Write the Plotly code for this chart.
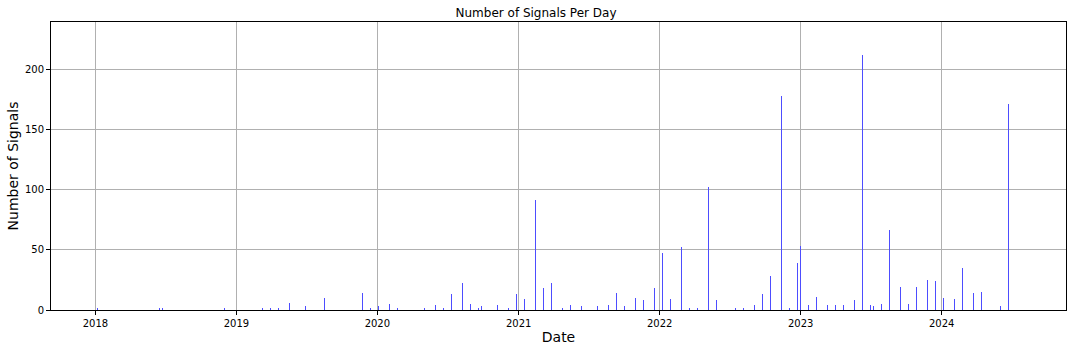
import plotly.graph_objects as go

dates = [
    "2018-01-06", "2018-06-16", "2018-06-23", "2018-12-01",
    "2019-03-10", "2019-03-30", "2019-04-20", "2019-05-18", "2019-06-29",
    "2019-08-17", "2019-11-23", "2019-12-14",
    "2020-01-03", "2020-02-01", "2020-02-22", "2020-05-02", "2020-05-30",
    "2020-06-20", "2020-07-11", "2020-08-08", "2020-08-29", "2020-09-18",
    "2020-09-26", "2020-11-07", "2020-12-05", "2020-12-26",
    "2021-01-15", "2021-02-13", "2021-03-06", "2021-03-26", "2021-04-24",
    "2021-05-15", "2021-06-12", "2021-07-23", "2021-08-21", "2021-09-11",
    "2021-10-01", "2021-10-30", "2021-11-19", "2021-12-18",
    "2022-01-08", "2022-01-28", "2022-02-26", "2022-03-19", "2022-04-08",
    "2022-05-07", "2022-05-28", "2022-07-16", "2022-08-05", "2022-09-03",
    "2022-09-24", "2022-10-14", "2022-11-12", "2022-12-02", "2022-12-23",
    "2023-01-01", "2023-01-21", "2023-02-10", "2023-03-11", "2023-04-01",
    "2023-04-21", "2023-05-20", "2023-06-09", "2023-06-30", "2023-07-08",
    "2023-07-29", "2023-08-18", "2023-09-16", "2023-10-07", "2023-10-27",
    "2023-11-25", "2023-12-15",
    "2024-01-05", "2024-02-03", "2024-02-23", "2024-03-23", "2024-04-13",
    "2024-06-01", "2024-06-21",
]
signals = [
    1, 2, 2, 1,
    1, 1, 1, 6, 3,
    10, 14, 1,
    3, 5, 1, 1, 4,
    1, 13, 22, 5, 1,
    3, 4, 1, 13,
    9, 91, 18, 22, 1,
    4, 3, 3, 4, 14,
    3, 10, 8, 18,
    47, 9, 52, 1, 1,
    102, 8, 1, 1, 4,
    13, 28, 178, 1, 39,
    53, 4, 11, 4, 4,
    4, 8, 212, 4, 3,
    5, 66, 19, 5, 19,
    25, 24,
    10, 9, 35, 14, 15,
    3, 171,
]

year_ticks = ["2018-01-01", "2019-01-01", "2020-01-01", "2021-01-01",
              "2022-01-01", "2023-01-01", "2024-01-01"]
year_labels = ["2018", "2019", "2020", "2021", "2022", "2023", "2024"]
y_ticks = [0, 50, 100, 150, 200]

DAY_MS = 86400000

fig = go.Figure()
fig.add_trace(go.Bar(
    x=dates,
    y=signals,
    width=[0.2 * DAY_MS] * len(dates),
    marker=dict(color="#4d4dff", line=dict(width=0)),
))

font_family = "DejaVu Sans, sans-serif"
fig.update_layout(
    width=1072,
    height=352,
    margin=dict(l=51, r=6, t=22, b=42),
    paper_bgcolor="white",
    plot_bgcolor="white",
    showlegend=False,
    font=dict(family=font_family, size=10, color="black"),
    title=dict(text="Number of Signals Per Day", x=0.5, xanchor="center",
               y=1 - 13 / 352, yanchor="middle",
               font=dict(size=12, family=font_family, color="black")),
    bargap=0,
)
fig.update_xaxes(
    type="date",
    range=["2017-09-08", "2024-11-18"],
    tickvals=year_ticks,
    ticktext=year_labels,
    showgrid=True, gridcolor="#b0b0b0", gridwidth=1,
    showline=True, linecolor="black", linewidth=1, mirror=True,
    ticks="outside", ticklen=4, tickcolor="black",
    tickfont=dict(size=10),
    title=dict(text="Date", font=dict(size=14), standoff=4),
    zeroline=False,
)
fig.update_yaxes(
    range=[0, 239],
    tickvals=y_ticks,
    showgrid=True, gridcolor="#b0b0b0", gridwidth=1,
    showline=True, linecolor="black", linewidth=1, mirror=True,
    ticks="outside", ticklen=4, tickcolor="black",
    tickfont=dict(size=10),
    title=dict(text="Number of Signals", font=dict(size=14), standoff=3),
    zeroline=False,
)

fig.write_html("out.html")
